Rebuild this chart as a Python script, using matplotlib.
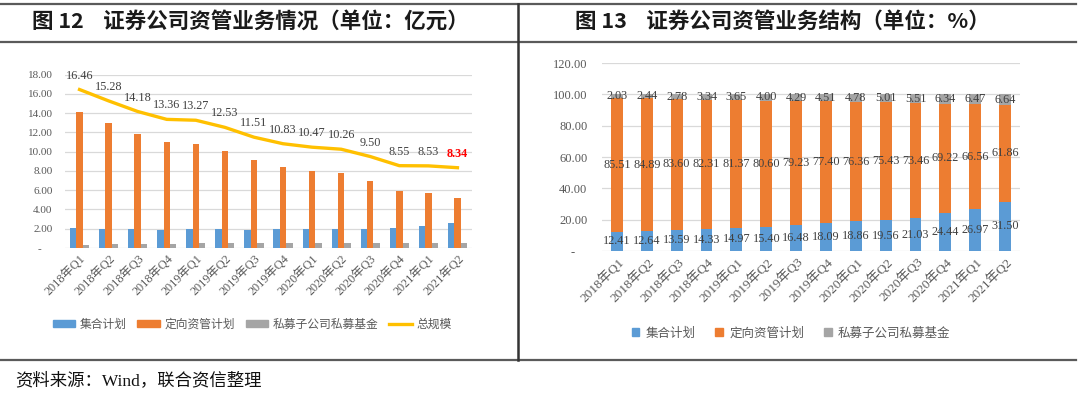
import numpy as np
import matplotlib
matplotlib.use("Agg")
import matplotlib.pyplot as plt
from matplotlib.lines import Line2D
from matplotlib.patches import Patch

plt.rcParams['font.family'] = ['Liberation Serif', 'Noto Sans CJK SC']

# ---------------------------------------------------------------- data
quarters = ["2018年Q1", "2018年Q2", "2018年Q3", "2018年Q4",
            "2019年Q1", "2019年Q2", "2019年Q3", "2019年Q4",
            "2020年Q1", "2020年Q2", "2020年Q3", "2020年Q4",
            "2021年Q1", "2021年Q2"]

# amounts, 亿元
collective = [2.04, 1.93, 1.93, 1.91, 1.99, 1.93, 1.90, 1.96, 1.97, 2.01, 2.00, 2.09, 2.30, 2.63]
targeted   = [14.08, 12.97, 11.85, 11.00, 10.80, 10.10, 9.12, 8.38, 8.00, 7.74, 6.98, 5.92, 5.68, 5.16]
private    = [0.33, 0.37, 0.39, 0.45, 0.48, 0.50, 0.49, 0.49, 0.50, 0.51, 0.52, 0.54, 0.55, 0.55]
total      = [16.46, 15.28, 14.18, 13.36, 13.27, 12.53, 11.51, 10.83, 10.47, 10.26, 9.50, 8.55, 8.53, 8.34]

# shares, %
pct_collective = [12.41, 12.64, 13.59, 14.33, 14.97, 15.40, 16.48, 18.09, 18.86, 19.56, 21.03, 24.44, 26.97, 31.50]
pct_targeted   = [85.51, 84.89, 83.60, 82.31, 81.37, 80.60, 79.23, 77.40, 76.36, 75.43, 73.46, 69.22, 66.56, 61.86]
pct_private    = [2.03, 2.44, 2.78, 3.34, 3.65, 4.00, 4.29, 4.51, 4.78, 5.01, 5.51, 6.34, 6.47, 6.64]

legend_names = ["集合计划", "定向资管计划", "私募子公司私募基金", "总规模"]

BLUE, ORANGE, GREY, GOLD = "#5B9BD5", "#ED7D31", "#A5A5A5", "#FFC000"
TXT = "#595959"
LAB = "#404040"

W, H = 1080, 394
fig = plt.figure(figsize=(W / 100, H / 100), dpi=100)


def fx(px):
    return px / W


def fy(py):
    return 1 - py / H


# ---------------------------------------------------------------- frame
for yy in (4, 42, 360):
    fig.add_artist(Line2D([0, fx(1076)], [fy(yy), fy(yy)], color="#5a5a5a", lw=1.6))
fig.add_artist(Line2D([fx(518), fx(518)], [fy(4), fy(360)], color="#333333", lw=1.8))

fig.text(fx(32), fy(21), "图 12    证券公司资管业务情况（单位：亿元）",
         family=['Noto Sans CJK SC'], fontsize=15.5, weight="semibold", va="center", color="#1a1a1a")
fig.text(fx(575), fy(21), "图 13    证券公司资管业务结构（单位：%）",
         family=['Noto Sans CJK SC'], fontsize=15.5, weight="semibold", va="center", color="#1a1a1a")
fig.text(fx(15), fy(381), "资料来源：Wind，联合资信整理",
         family=['Liberation Serif', 'Noto Sans CJK SC'], fontsize=12.5, va="center", color="#111111")

x = np.arange(len(quarters))


def style_axes(ax, ylabels_fs, pad):
    for s in ax.spines.values():
        s.set_visible(False)
    ax.grid(axis="y", color="#D9D9D9", lw=0.9)
    ax.set_axisbelow(True)
    ax.tick_params(axis="both", length=0, colors=TXT)
    ax.tick_params(axis="y", labelsize=ylabels_fs, pad=pad)
    ax.set_xticks(x)
    ax.set_xticklabels(quarters, rotation=45, ha="right", rotation_mode="anchor")
    ax.set_xlim(-0.5, len(quarters) - 0.5)


# ---------------------------------------------------------------- left chart
ax1 = fig.add_axes([fx(65), fy(248), fx(472 - 65), (248 - 74.7) / H])
bw = 0.22
ax1.bar(x - bw, collective, bw, color=BLUE)
ax1.bar(x, targeted, bw, color=ORANGE)
ax1.bar(x + bw, private, bw, color=GREY)
ax1.plot(x, total, color=GOLD, lw=2.4)
ax1.set_ylim(0, 18)
ax1.set_yticks(np.arange(0, 19, 2))
ax1.set_yticklabels(["-    "] + [f"{v:.2f}" for v in np.arange(2, 19, 2)])
style_axes(ax1, 8, 9)
ax1.tick_params(axis="x", labelsize=8.8, pad=3)
for i, v in enumerate(total):
    last = i == len(total) - 1
    ax1.annotate(f"{v:.2f}", (x[i], v), xytext=(0, 10), textcoords="offset points",
                 ha="center", va="center", fontsize=8.8,
                 color="#FF0000" if last else LAB, weight="bold" if last else "normal",
                 annotation_clip=False)

h1 = [Patch(color=BLUE), Patch(color=ORANGE), Patch(color=GREY),
      Line2D([], [], color=GOLD, lw=2.4)]
fig.legend(h1, legend_names, loc="center", bbox_to_anchor=(fx(252), fy(324)),
           ncol=4, frameon=False, handlelength=1.9, handleheight=0.55,
           handletextpad=0.4, columnspacing=0.9,
           prop={"family": ["Noto Sans CJK SC"], "size": 8.5}, labelcolor=TXT)

# ---------------------------------------------------------------- right chart
ax2 = fig.add_axes([fx(602), fy(251), fx(1020 - 602), (251 - 63) / H])
bw2 = 0.4
b1 = np.array(pct_collective)
b2 = np.array(pct_targeted)
b3 = np.array(pct_private)
ax2.bar(x, b1, bw2, color=BLUE)
ax2.bar(x, b2, bw2, bottom=b1, color=ORANGE)
ax2.bar(x, b3, bw2, bottom=b1 + b2, color=GREY)
ax2.set_ylim(0, 120)
ax2.set_yticks(np.arange(0, 121, 20))
ax2.set_yticklabels(["-    "] + [f"{v:.2f}" for v in np.arange(20, 121, 20)])
style_axes(ax2, 9, 10.5)
ax2.tick_params(axis="x", labelsize=9.5, pad=3)
for i in range(len(quarters)):
    for bottom, val in ((0, b1[i]), (b1[i], b2[i]), (b1[i] + b2[i], b3[i])):
        ax2.text(x[i], bottom + val / 2, f"{val:.2f}", ha="center", va="center",
                 fontsize=8.8, color=LAB)

h2 = [Patch(color=BLUE), Patch(color=ORANGE), Patch(color=GREY)]
fig.legend(h2, legend_names[:3], loc="center", bbox_to_anchor=(fx(791), fy(333)),
           ncol=3, frameon=False, handlelength=0.6, handleheight=0.6,
           handletextpad=0.5, columnspacing=1.6,
           prop={"family": ["Noto Sans CJK SC"], "size": 9}, labelcolor=TXT)

fig.savefig("out.png", dpi=100)
